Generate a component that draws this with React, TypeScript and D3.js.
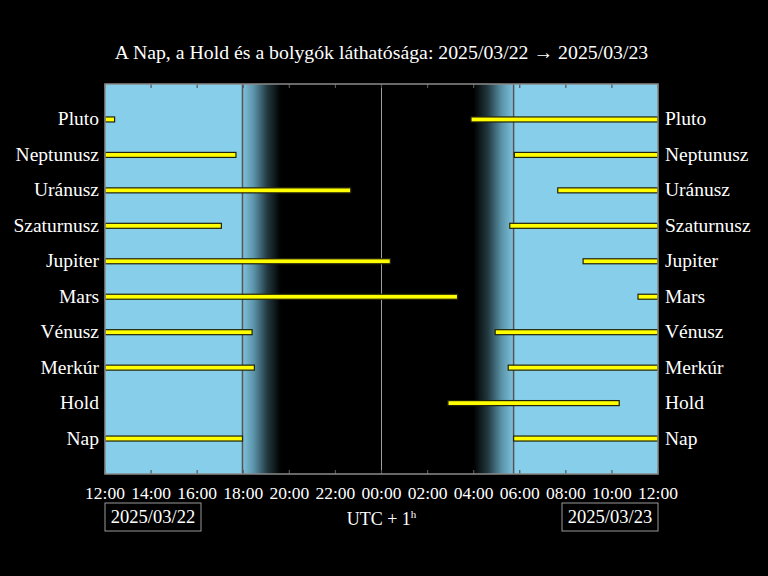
import { useEffect, useRef } from "react";
import * as d3 from "d3";

// ── Data ─────────────────────────────────────────────────────────────
const DAY1 = "2025-03-22";
const DAY2 = "2025-03-23";

const bodies = ["Pluto", "Neptunusz", "Uránusz", "Szaturnusz", "Jupiter", "Mars", "Vénusz", "Merkúr", "Hold", "Nap"];

// visibility intervals above the horizon [start, end] (local UTC+1)
const pluto = [[`${DAY1} 12:00`, `${DAY1} 12:25`], [`${DAY2} 03:53`, `${DAY2} 12:00`]];
const neptunusz = [[`${DAY1} 12:00`, `${DAY1} 17:41`], [`${DAY2} 05:46`, `${DAY2} 12:00`]];
const uranusz = [[`${DAY1} 12:00`, `${DAY1} 22:40`], [`${DAY2} 07:39`, `${DAY2} 12:00`]];
const szaturnusz = [[`${DAY1} 12:00`, `${DAY1} 17:03`], [`${DAY2} 05:34`, `${DAY2} 12:00`]];
const jupiter = [[`${DAY1} 12:00`, `${DAY2} 00:23`], [`${DAY2} 08:45`, `${DAY2} 12:00`]];
const mars = [[`${DAY1} 12:00`, `${DAY2} 03:18`], [`${DAY2} 11:08`, `${DAY2} 12:00`]];
const venusz = [[`${DAY1} 12:00`, `${DAY1} 18:23`], [`${DAY2} 04:56`, `${DAY2} 12:00`]];
const merkur = [[`${DAY1} 12:00`, `${DAY1} 18:29`], [`${DAY2} 05:30`, `${DAY2} 12:00`]];
const hold = [[`${DAY2} 02:53`, `${DAY2} 10:19`]];
const nap = [[`${DAY1} 12:00`, `${DAY1} 17:58`], [`${DAY2} 05:44`, `${DAY2} 12:00`]];

const intervals = [pluto, neptunusz, uranusz, szaturnusz, jupiter, mars, venusz, merkur, hold, nap];

const sunset = `${DAY1} 17:58`;
const duskEnd = `${DAY1} 19:38`;
const dawnStart = `${DAY2} 04:00`;
const sunrise = `${DAY2} 05:44`;

const domainStart = `${DAY1} 12:00`;
const domainEnd = `${DAY2} 12:00`;

const title = "A Nap, a Hold és a bolygók láthatósága: 2025/03/22 → 2025/03/23";

const SKY = "#87CEEB";
const FONT = "'Liberation Serif', 'DejaVu Serif', serif";

export default function App() {
  const svgRef = useRef<SVGSVGElement>(null);

  useEffect(() => {
    if (!svgRef.current) return;
    const W = 768, H = 576;
    const margin = { top: 84, right: 110, bottom: 102, left: 105 };
    const innerW = W - margin.left - margin.right;
    const innerH = H - margin.top - margin.bottom;

    const parse = d3.timeParse("%Y-%m-%d %H:%M");
    const p = (s: string) => parse(s) as Date;

    const svg = d3.select(svgRef.current);
    svg.selectAll("*").remove();
    svg.attr("width", W).attr("height", H);

    svg.append("rect").attr("width", W).attr("height", H).attr("fill", "#000");

    const x = d3.scaleTime().domain([p(domainStart), p(domainEnd)]).range([0, innerW]);
    const y = d3.scalePoint().domain(bodies).range([0, innerH]).padding(1);

    // gradients
    const defs = svg.append("defs");
    const dusk = defs.append("linearGradient").attr("id", "dusk");
    [[0, "#80c2dd"], [0.3, "#5a93a8"], [0.65, "#22383f"], [1, "#000"]].forEach(([o, c]) =>
      dusk.append("stop").attr("offset", o as number).attr("stop-color", c as string));
    const dawn = defs.append("linearGradient").attr("id", "dawn");
    [[0, "#000"], [0.35, "#22383f"], [0.7, "#5a93a8"], [1, "#80c2dd"]].forEach(([o, c]) =>
      dawn.append("stop").attr("offset", o as number).attr("stop-color", c as string));

    const g = svg.append("g").attr("transform", `translate(${margin.left},${margin.top})`);

    // ── Sky background ────────────────────────────────────────────
    g.append("rect").attr("x", 0).attr("y", 0)
      .attr("width", x(p(sunset))).attr("height", innerH).attr("fill", SKY);
    g.append("rect").attr("x", x(p(sunset))).attr("y", 0)
      .attr("width", x(p(duskEnd)) - x(p(sunset))).attr("height", innerH).attr("fill", "url(#dusk)");
    g.append("rect").attr("x", x(p(dawnStart))).attr("y", 0)
      .attr("width", x(p(sunrise)) - x(p(dawnStart))).attr("height", innerH).attr("fill", "url(#dawn)");
    g.append("rect").attr("x", x(p(sunrise))).attr("y", 0)
      .attr("width", innerW - x(p(sunrise))).attr("height", innerH).attr("fill", SKY);

    // midnight line
    g.append("line")
      .attr("x1", x(p(`${DAY2} 00:00`))).attr("x2", x(p(`${DAY2} 00:00`)))
      .attr("y1", 0).attr("y2", innerH)
      .attr("stroke", "#a0a0a0").attr("stroke-width", 1);

    // sunset / sunrise lines
    [sunset, sunrise].forEach((s) => {
      g.append("line")
        .attr("x1", x(p(s))).attr("x2", x(p(s)))
        .attr("y1", 0).attr("y2", innerH)
        .attr("stroke", "#555").attr("stroke-width", 1.5);
    });

    // ── Bars ──────────────────────────────────────────────────────
    const barH = 5;
    intervals.forEach((segs, i) => {
      const cy = y(bodies[i]) ?? 0;
      segs.forEach(([a, b]) => {
        const x0 = x(p(a)), x1 = x(p(b));
        g.append("rect")
          .attr("x", x0).attr("y", cy - barH / 2)
          .attr("width", x1 - x0).attr("height", barH)
          .attr("fill", "#ffff00")
          .attr("stroke", "#22220a").attr("stroke-width", 1.2);
      });
    });

    // ── Ticks ─────────────────────────────────────────────────────
    const ticks = x.ticks(d3.timeHour.every(2) as any);
    ticks.forEach((t) => {
      const tx = x(t);
      g.append("line").attr("x1", tx).attr("x2", tx).attr("y1", 0).attr("y2", 4)
        .attr("stroke", "#555").attr("stroke-width", 1.2);
      g.append("line").attr("x1", tx).attr("x2", tx).attr("y1", innerH).attr("y2", innerH - 4)
        .attr("stroke", "#555").attr("stroke-width", 1.2);
      g.append("text")
        .attr("x", tx).attr("y", innerH + 25)
        .attr("text-anchor", "middle")
        .attr("font-family", FONT).attr("font-size", 17.5)
        .attr("fill", "#fff")
        .text(d3.timeFormat("%H:%M")(t));
    });

    // frame
    g.append("rect").attr("x", 0).attr("y", 0).attr("width", innerW).attr("height", innerH)
      .attr("fill", "none").attr("stroke", "#8a8a8a").attr("stroke-width", 1.5);

    // ── Body labels (both sides) ──────────────────────────────────
    bodies.forEach((b) => {
      const cy = (y(b) ?? 0) + 6;
      g.append("text").attr("x", -6).attr("y", cy).attr("text-anchor", "end")
        .attr("font-family", FONT).attr("font-size", 19.5).attr("fill", "#fff").text(b);
      g.append("text").attr("x", innerW + 7).attr("y", cy).attr("text-anchor", "start")
        .attr("font-family", FONT).attr("font-size", 19.5).attr("fill", "#fff").text(b);
    });

    // ── Date boxes ────────────────────────────────────────────────
    const boxes: [string, number, string][] = [["2025/03/22", 0, "start"], ["2025/03/23", innerW, "end"]];
    boxes.forEach(([label, bx, anchor]) => {
      const bw = 96;
      const left = anchor === "start" ? bx : bx - bw;
      g.append("rect").attr("x", left).attr("y", innerH + 29).attr("width", bw).attr("height", 28)
        .attr("fill", "none").attr("stroke", "#999").attr("stroke-width", 1);
      g.append("text").attr("x", left + bw / 2).attr("y", innerH + 49).attr("text-anchor", "middle")
        .attr("font-family", FONT).attr("font-size", 18.5).attr("fill", "#fff").text(label);
    });

    // UTC label
    const utc = g.append("text").attr("x", innerW / 2).attr("y", innerH + 51).attr("text-anchor", "middle")
      .attr("font-family", FONT).attr("font-size", 18).attr("fill", "#fff");
    utc.append("tspan").text("UTC + 1");
    utc.append("tspan").attr("font-size", 11).attr("dy", -7).text("h");

    // ── Title ─────────────────────────────────────────────────────
    svg.append("text").attr("x", margin.left + innerW / 2).attr("y", 59).attr("text-anchor", "middle")
      .attr("font-family", FONT).attr("font-size", 19.8).attr("fill", "#fff").text(title);
  }, []);

  return (
    <div style={{ position: "absolute", left: 0, top: 0 }}>
      <svg ref={svgRef} width={768} height={576} style={{ display: "block" }} />
    </div>
  );
}
